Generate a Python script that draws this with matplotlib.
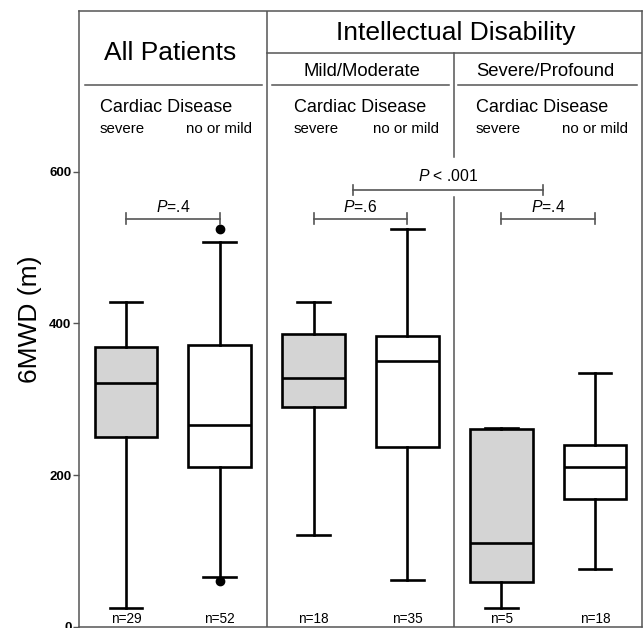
import matplotlib
matplotlib.use("Agg")
import matplotlib.pyplot as plt

plt.rcParams['font.family'] = ['Liberation Sans', 'DejaVu Sans']
plt.rcParams['mathtext.fontset'] = 'custom'
plt.rcParams['mathtext.rm'] = 'Liberation Sans'
plt.rcParams['mathtext.it'] = 'Liberation Sans:italic'

# box statistics (6MWD in m)
grupos = ['All severe', 'All no/mild', 'Mild severe', 'Mild no/mild',
          'Severe severe', 'Severe no/mild']
whislo = [25, 66, 121, 61, 25, 76]
q1 = [250, 210, 290, 237, 59, 169]
medianas = [321, 266, 328, 351, 111, 210]
q3 = [369, 371, 386, 384, 261, 240]
whishi = [428, 507, 428, 525, 262, 334]
outliers = [[], [524, 60], [], [], [], []]
n_labels = ['n=29', 'n=52', 'n=18', 'n=35', 'n=5', 'n=18']
severo = [True, False, True, False, True, False]

# comparaciones
p_pares = [(1, 2), (3, 4), (5, 6)]
p_textos = [r'$\mathit{P}$=.4', r'$\mathit{P}$=.6', r'$\mathit{P}$=.4']
p_total = (3.42, 5.44)
p_total_texto = r'$\mathit{P}$ < .001'

stats = []
for i in range(len(grupos)):
    stats.append({'label': grupos[i], 'whislo': whislo[i], 'q1': q1[i], 'med': medianas[i],
                  'q3': q3[i], 'whishi': whishi[i], 'fliers': outliers[i]})

fig = plt.figure(figsize=(6.43, 6.28), dpi=100)
ax = fig.add_axes([0.1229, 0.0021, 0.8755, 0.9804])

posiciones = list(range(1, len(grupos) + 1))
bp = ax.bxp(stats, positions=posiciones, widths=0.67, patch_artist=True, showfliers=True,
            boxprops=dict(linewidth=1.9, edgecolor='black'),
            medianprops=dict(color='black', linewidth=1.9),
            whiskerprops=dict(linewidth=1.9, color='black'),
            capprops=dict(linewidth=1.9, color='black'),
            flierprops=dict(marker='o', markerfacecolor='black', markeredgecolor='black', markersize=6),
            capwidths=0.35)
for caja, sev in zip(bp['boxes'], severo):
    caja.set_facecolor('#d4d4d4' if sev else 'white')

ax.set_xlim(0.5, 6.5)
ax.set_ylim(0, 812)
ax.set_yticks([0, 200, 400, 600])
ax.set_yticklabels(['0', '200', '400', '600'], fontsize=9.5, fontweight='bold')
ax.tick_params(axis='y', length=4.5, width=1, color='#555555', pad=1)
ax.set_xticks([])
for s in ax.spines.values():
    s.set_color('#555555')
    s.set_linewidth(1.1)
ax.set_ylabel('6MWD (m)', fontsize=19)
ax.yaxis.set_label_coords(-0.066, 0.5)

gris = '#555555'
# divisiones de paneles
ax.plot([2.5, 2.5], [0, 812], color=gris, lw=1.1)
ax.plot([4.5, 4.5], [619, 756], color=gris, lw=1.1)
ax.plot([4.5, 4.5], [0, 567], color=gris, lw=1.1)
ax.plot([2.5, 6.5], [756, 756], color=gris, lw=1.1)
ax.plot([0.564, 2.45], [714, 714], color=gris, lw=1.1)
ax.plot([2.557, 4.44], [714, 714], color=gris, lw=1.1)
ax.plot([4.54, 6.45], [714, 714], color=gris, lw=1.1)

# encabezados
ax.text(1.47, 757, 'All Patients', fontsize=19, ha='center', va='center')
ax.text(4.52, 783, 'Intellectual Disability', fontsize=19, ha='center', va='center')
ax.text(3.52, 732, 'Mild/Moderate', fontsize=13.3, ha='center', va='center')
ax.text(5.47, 732, 'Severe/Profound', fontsize=13.3, ha='center', va='center')
for xl, xr in [(0.72, 2.34), (2.79, 4.34), (4.73, 6.35)]:
    ax.text(xl, 685, 'Cardiac Disease', fontsize=13, ha='left', va='center')
    ax.text(xl, 657, 'severe', fontsize=10.8, ha='left', va='center')
    ax.text(xr, 657, 'no or mild', fontsize=10.8, ha='right', va='center')

# barras de P
def bracket(x0, x1, y, texto, ty):
    ax.plot([x0, x1], [y, y], color=gris, lw=1.2)
    ax.plot([x0, x0], [y - 7, y + 7], color=gris, lw=1.2)
    ax.plot([x1, x1], [y - 7, y + 7], color=gris, lw=1.2)
    ax.text((x0 + x1) / 2, ty, texto, fontsize=11.3, ha='center', va='center')

for (a, b), t in zip(p_pares, p_textos):
    bracket(a, b, 538, t, 554)
bracket(p_total[0], p_total[1], 576, p_total_texto, 594)

for pos, lab in zip(posiciones, n_labels):
    ax.text(pos, 10, lab, fontsize=9.8, ha='center', va='center')

plt.savefig('out.png', dpi=100)
